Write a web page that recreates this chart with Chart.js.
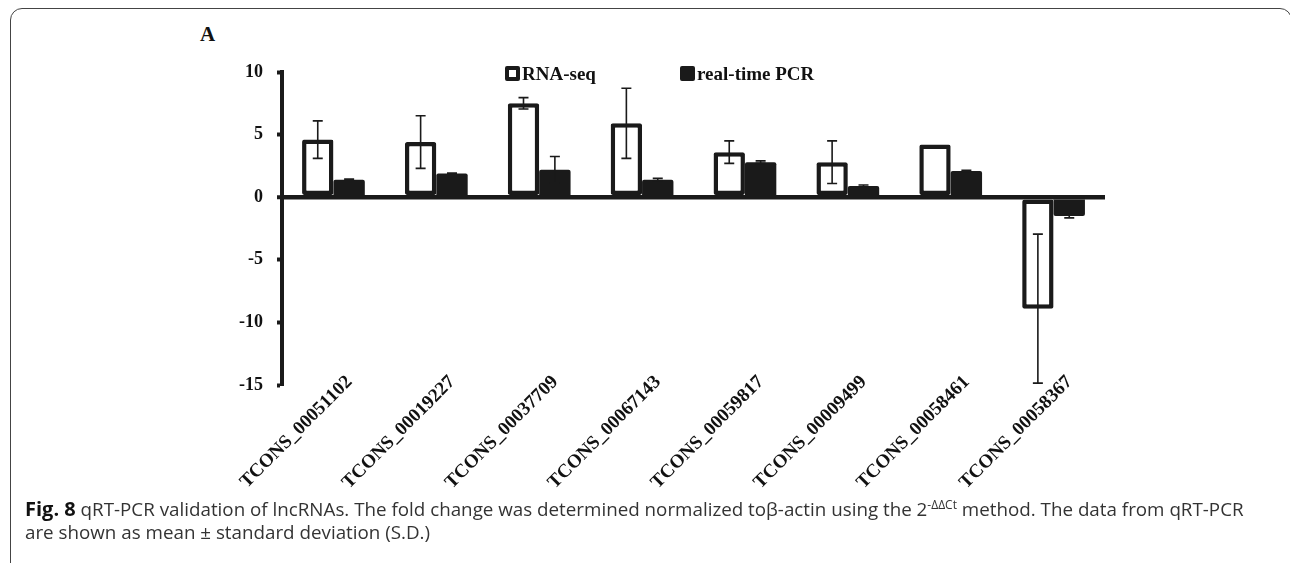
<!DOCTYPE html>
<html>
<head>
<meta charset="utf-8">
<script src="https://cdn.jsdelivr.net/npm/chart.js@4.4.0/dist/chart.umd.min.js"></script>
<style>
  html, body { margin: 0; padding: 0; background: #fff; }
  body { width: 1290px; height: 563px; position: relative; overflow: hidden; }
  .frame { position: absolute; left: 10px; top: 8px; width: 1282px; height: 580px;
           border: 1.5px solid #444; border-radius: 12px; box-sizing: border-box; }
  #wrap { position: absolute; left: 0; top: 0; width: 1290px; height: 500px; }
  .panel { position: absolute; left: 200px; top: 22px; font: bold 21px "Liberation Serif", serif; color: #111; }
  .legend { position: absolute; top: 63px; font: bold 19px "Liberation Serif", serif; color: #111; white-space: nowrap; }
  .legend .box { display: inline-block; width: 15px; height: 15px; box-sizing: border-box;
                 border: 4px solid #1a1a1a; border-radius: 2px; vertical-align: -1px; margin-right: 2px; }
  .caption { position: absolute; left: 25px; top: 493px; font: 18.8px "Open Sans", sans-serif;
             color: #333; line-height: 23px; white-space: nowrap; }
  .caption b { color: #111; font-size: 20px; }
  .caption sup { font-size: 12px; vertical-align: 7px; }
</style>
</head>
<body>
<div class="frame"></div>
<div class="panel">A</div>
<div id="wrap"><canvas id="chart" width="1290" height="500"></canvas></div>
<div class="legend" style="left:505px"><span class="box" style="background:#fff"></span>RNA-seq</div>
<div class="legend" style="left:680px"><span class="box" style="background:#1a1a1a"></span>real-time PCR</div>
<div class="caption"><b>Fig. 8</b> qRT-PCR validation of lncRNAs. The fold change was determined normalized toβ-actin using the 2<sup>-ΔΔCt</sup> method. The data from qRT-PCR<br>are shown as mean ± standard deviation (S.D.)</div>

<script>
// data
const labels = ['TCONS_00051102', 'TCONS_00019227', 'TCONS_00037709', 'TCONS_00067143',
                'TCONS_00059817', 'TCONS_00009499', 'TCONS_00058461', 'TCONS_00058367'];
const rnaSeq   = [4.6, 4.4, 7.5, 5.9, 3.6, 2.8, 4.2, -8.9];
const rnaSeqSD = [1.5, 2.1, 0.45, 2.8, 0.9, 1.7, 0, 5.95];
const pcr      = [1.4, 1.9, 2.2, 1.4, 2.8, 0.9, 2.1, -1.5];
const pcrSD    = [0.05, 0.03, 1.05, 0.1, 0.1, 0.08, 0.05, 0.15];
const yTicks   = [-15, -10, -5, 0, 5, 10];

const ink = '#1a1a1a';
const serif = { family: '"Liberation Serif", serif', weight: 'bold', size: 18 };

// mean ± SD whiskers
const errorBars = {
  id: 'errorBars',
  afterDatasetsDraw(chart) {
    const ctx = chart.ctx;
    const y = chart.scales.y;
    chart.data.datasets.forEach((ds, i) => {
      chart.getDatasetMeta(i).data.forEach((bar, j) => {
        const sd = ds.sd[j];
        if (!sd) return;
        const v = ds.data[j];
        const top = y.getPixelForValue(v + sd);
        const bot = y.getPixelForValue(v - sd);
        ctx.save();
        ctx.strokeStyle = ink;
        ctx.lineWidth = 1.6;
        ctx.beginPath();
        ctx.moveTo(bar.x, top); ctx.lineTo(bar.x, bot);
        ctx.moveTo(bar.x - 5, top); ctx.lineTo(bar.x + 5, top);
        ctx.moveTo(bar.x - 5, bot); ctx.lineTo(bar.x + 5, bot);
        ctx.stroke();
        ctx.restore();
      });
    });
  }
};

// x labels in the original poke a little into the plot, so don't clip them to the axis box
const noLabelClip = {
  id: 'noLabelClip',
  beforeDraw(chart) {
    chart.scales.x._computeLabelArea = () => undefined;
  }
};

new Chart(document.getElementById('chart'), {
  type: 'bar',
  data: {
    labels,
    datasets: [
      { label: 'RNA-seq', data: rnaSeq, sd: rnaSeqSD, backgroundColor: '#fff',
        borderColor: ink, borderWidth: 4.5, borderSkipped: false, borderRadius: 2 },
      { label: 'real-time PCR', data: pcr, sd: pcrSD, backgroundColor: ink,
        borderWidth: 0, borderRadius: 2 }
    ]
  },
  options: {
    responsive: false,
    animation: false,
    categoryPercentage: 0.61,
    barPercentage: 1.0,
    layout: { padding: { left: 232, right: 185, top: 72, bottom: 0 } },
    plugins: { legend: { display: false }, tooltip: { enabled: false } },
    scales: {
      x: {
        grid: { display: false, drawTicks: false },
        border: { display: false },
        ticks: { minRotation: 45, maxRotation: 45, autoSkip: false, padding: -14,
                 labelOffset: 16, color: '#111', font: { ...serif, size: 19 } },
        afterFit: s => { s.height = 115; }
      },
      y: {
        min: -15, max: 10,
        afterBuildTicks: s => { s.ticks = yTicks.map(v => ({ value: v })); },
        afterFit: s => { s.width = 50; },
        border: { color: ink, width: 4 },
        grid: {
          color: c => (c.tick && c.tick.value === 0) ? ink : 'rgba(0,0,0,0)',
          lineWidth: c => (c.tick && c.tick.value === 0) ? 4.5 : 1,
          tickColor: ink, tickLength: 5, tickWidth: 4
        },
        ticks: { padding: 14, color: '#111', font: serif }
      }
    }
  },
  plugins: [errorBars, noLabelClip]
});
</script>
</body>
</html>
